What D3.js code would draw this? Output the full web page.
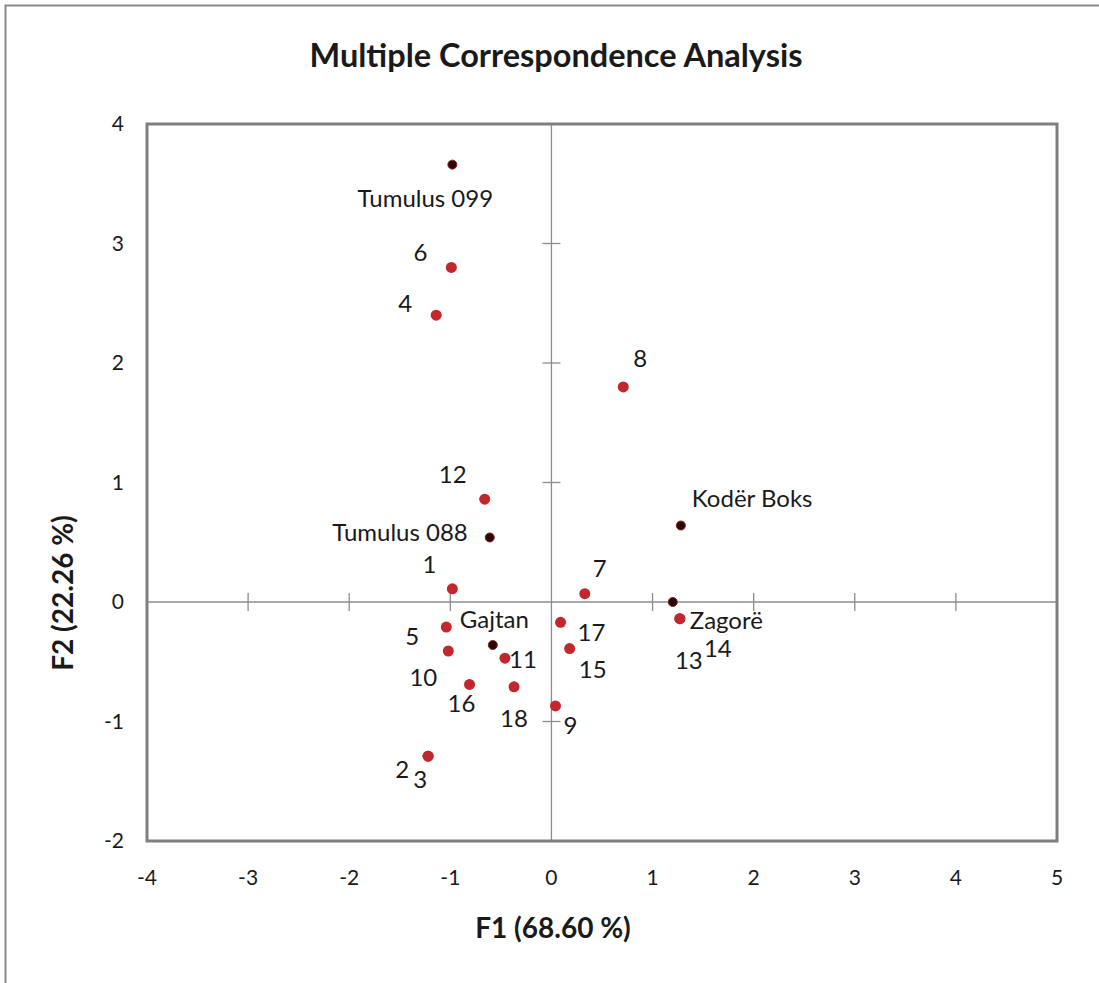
<!DOCTYPE html>
<html>
<head>
<meta charset="utf-8">
<script src="https://d3js.org/d3.v7.min.js"></script>
<style>
  body { margin: 0; background: #fff; }
  text { font-family: Lato, "Open Sans", sans-serif; fill: #1a1a1a; }
</style>
</head>
<body>
<svg id="chart" width="1099" height="983"></svg>
<script>
// observations (red) and sites (black)
const names = ["Tumulus 099", "6", "4", "8", "12", "Tumulus 088", "Kodër Boks", "1", "7",
               "Zagorë", "13", "14", "17", "15", "5", "10", "Gajtan", "11", "16", "18", "9", "2", "3"];
const f1 = [-0.98, -0.99, -1.14, 0.71, -0.66, -0.61, 1.28, -0.98, 0.33,
            1.20, 1.27, 1.27, 0.09, 0.18, -1.04, -1.02, -0.58, -0.46, -0.81, -0.37, 0.04, -1.22, -1.22];
const f2 = [3.66, 2.80, 2.40, 1.80, 0.86, 0.54, 0.64, 0.11, 0.07,
            0.00, -0.14, -0.14, -0.17, -0.39, -0.21, -0.41, -0.36, -0.47, -0.69, -0.71, -0.87, -1.29, -1.29];
const isSite = ["Tumulus 099", "Tumulus 088", "Kodër Boks", "Zagorë", "Gajtan"];
const xTicks = [-4, -3, -2, -1, 0, 1, 2, 3, 4, 5];
const yTicks = [-2, -1, 0, 1, 2, 3, 4];

// label offsets from each point (px, to text centre line), anchor
const labelPos = {
  "Tumulus 099": [-27, 33, "middle"], "6": [-31, -15, "middle"], "4": [-31, -12, "middle"],
  "8": [17, -29, "middle"], "12": [-32, -25, "middle"], "Tumulus 088": [-22, -5, "end"],
  "Kodër Boks": [11, -28, "start"], "1": [-23, -25, "middle"], "7": [15, -26, "middle"],
  "Zagorë": [17, 18, "start"], "13": [9, 41, "middle"], "14": [38, 29, "middle"],
  "17": [31, 10, "middle"], "15": [23, 20, "middle"], "5": [-34, 9, "middle"],
  "10": [-25, 26, "middle"], "Gajtan": [-33, -26, "start"], "11": [18, 1, "middle"],
  "16": [-8, 19, "middle"], "18": [0, 31, "middle"], "9": [15, 19, "middle"],
  "2": [-26, 13, "middle"], "3": [-8, 23, "middle"]
};

const svg = d3.select("#chart");
const x = d3.scaleLinear().domain([-4, 5]).range([147, 1057]);
const y = d3.scaleLinear().domain([-2, 4]).range([841, 124]);

// outer border
svg.append("rect").attr("x", 5.5).attr("y", 5.5).attr("width", 1200).attr("height", 1200)
  .attr("fill", "none").attr("stroke", "#8a8a8a").attr("stroke-width", 2);

// title
svg.append("text").attr("x", 556).attr("y", 67).attr("text-anchor", "middle")
  .style("font-size", "32.5px").style("font-weight", "bold").text("Multiple Correspondence Analysis");

// axes through origin with cross ticks
const g = svg.append("g");
g.append("line").attr("x1", x(-4)).attr("x2", x(5)).attr("y1", y(0)).attr("y2", y(0))
  .attr("stroke", "#8c8c8c").attr("stroke-width", 1.3);
g.append("line").attr("x1", x(0)).attr("x2", x(0)).attr("y1", y(4)).attr("y2", y(-2))
  .attr("stroke", "#8c8c8c").attr("stroke-width", 1.3);
g.selectAll(".xt").data(xTicks.filter(d => d > -4 && d < 5 && d !== 0)).join("line")
  .attr("x1", d => x(d)).attr("x2", d => x(d)).attr("y1", y(0) - 9).attr("y2", y(0) + 9)
  .attr("stroke", "#8c8c8c").attr("stroke-width", 1.3);
g.selectAll(".yt").data(yTicks.filter(d => d > -2 && d < 4 && d !== 0)).join("line")
  .attr("x1", x(0) - 9).attr("x2", x(0) + 9).attr("y1", d => y(d)).attr("y2", d => y(d))
  .attr("stroke", "#8c8c8c").attr("stroke-width", 1.3);

// frame
svg.append("rect").attr("x", x(-4)).attr("y", y(4)).attr("width", x(5) - x(-4)).attr("height", y(-2) - y(4))
  .attr("fill", "none").attr("stroke", "#7f7f7f").attr("stroke-width", 3);

// tick labels
svg.selectAll(".xl").data(xTicks).join("text")
  .attr("x", d => x(d)).attr("y", 885).attr("text-anchor", "middle")
  .style("font-size", "21px").text(d => d);
svg.selectAll(".yl").data(yTicks).join("text")
  .attr("x", 124).attr("y", d => y(d) + 7).attr("text-anchor", "end")
  .style("font-size", "21px").text(d => d);

// axis titles
svg.append("text").attr("x", 553).attr("y", 938).attr("text-anchor", "middle")
  .style("font-size", "28px").style("font-weight", "bold").text("F1 (68.60 %)");
svg.append("text").attr("transform", "translate(73,593) rotate(-90)").attr("text-anchor", "middle")
  .style("font-size", "28px").style("font-weight", "bold").text("F2 (22.26 %)");

// points
const pts = names.map((n, i) => ({ name: n, x: f1[i], y: f2[i], site: isSite.includes(n) }));
svg.selectAll(".pt").data(pts).join("circle")
  .attr("cx", d => x(d.x)).attr("cy", d => y(d.y))
  .attr("r", d => d.site ? 4.5 : 5.5)
  .attr("fill", d => d.site ? "#2a0606" : "#c1272d")
  .attr("stroke", d => d.site ? "#8a2020" : "none").attr("stroke-width", 1);

// labels
svg.selectAll(".lb").data(pts).join("text")
  .attr("x", d => x(d.x) + labelPos[d.name][0])
  .attr("y", d => y(d.y) + labelPos[d.name][1] + 9)
  .attr("text-anchor", d => labelPos[d.name][2])
  .style("font-size", "24px").text(d => d.name);
</script>
</body>
</html>
